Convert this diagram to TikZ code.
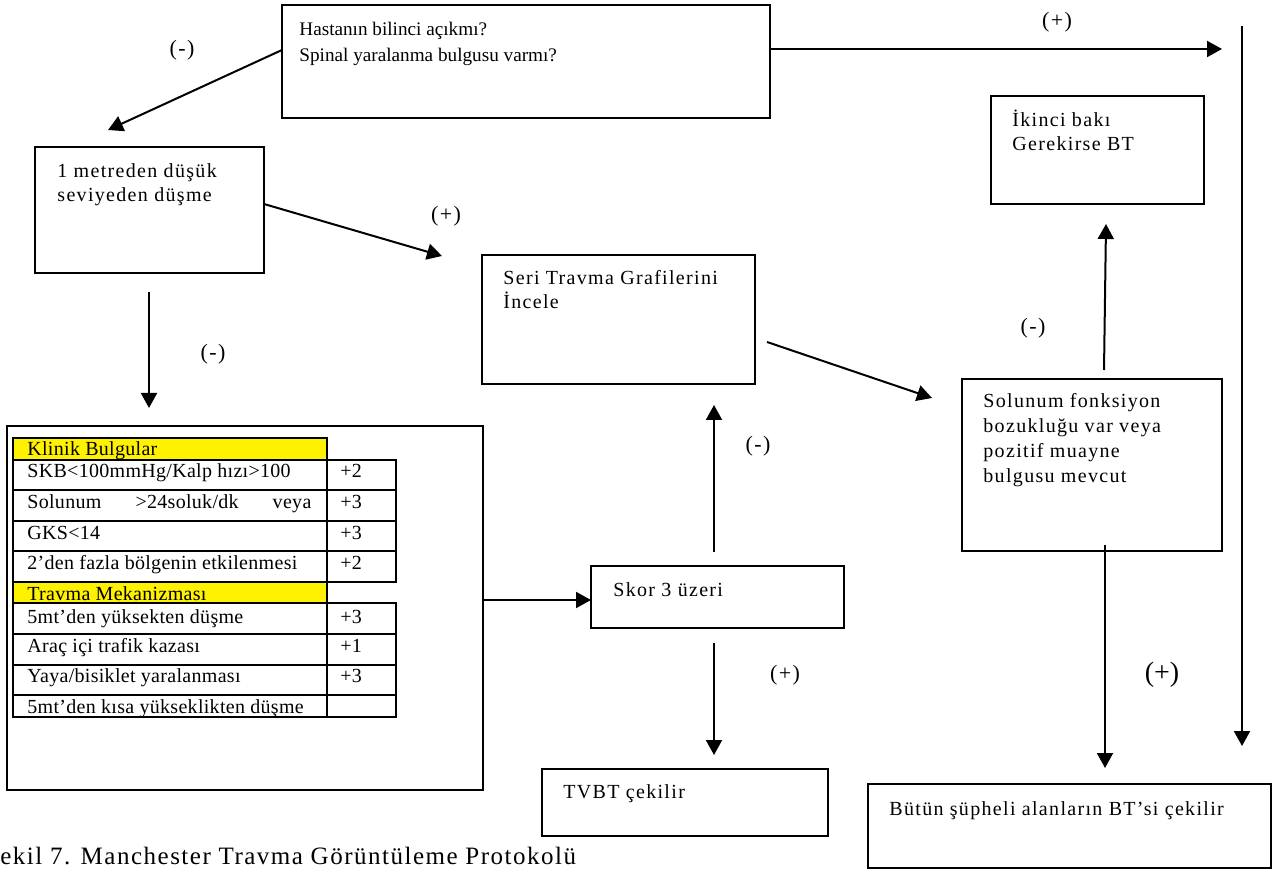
\documentclass[tikz,border=0pt]{standalone}
\usepackage{fontspec}
\setmainfont{Liberation Serif}
\newfontfamily\spcfont[LetterSpace=6.6]{Liberation Serif}
\newfontfamily\capfont[LetterSpace=6]{Liberation Serif}
\newfontfamily\tblfont[LetterSpace=1.5]{Liberation Serif}
\usetikzlibrary{arrows.meta,fit}
\newcommand{\mylines}[1]{\begin{tabular}[t]{@{}l@{}}#1\end{tabular}}
\begin{document}
\begin{tikzpicture}[x=0.5pt,y=-0.5pt,
  box/.style={draw,line width=0.8pt,inner sep=0pt},
  qt/.style={anchor=base west,inner sep=0pt,font=\fontsize{9.6}{13}\selectfont},
  bt/.style={anchor=base west,inner sep=0pt,font=\spcfont\fontsize{10}{12}\selectfont},
  tt/.style={anchor=base west,inner sep=0pt,font=\tblfont\fontsize{10}{12}\selectfont},
  lab/.style={inner sep=0pt,font=\spcfont\fontsize{11}{13}\selectfont},
  arr/.style={line width=1pt,-{Triangle[length=7.5pt,width=8pt]}},
  cell/.style={line width=1pt}]
\useasboundingbox (0,0) rectangle (1272,870);

% boxes
\node[box,fit={(282,5)(770,118)}] (q) {};
\node[box,fit={(35,147)(264,273)}] (m1) {};
\node[box,fit={(482,255)(755,384)}] (seri) {};
\node[box,fit={(991,96)(1204,204)}] (ik) {};
\node[box,fit={(962,379)(1222,551)}] (sol) {};
\node[box,fit={(7,426)(483,790)}] (tbl) {};
\node[box,fit={(591,566)(844,628)}] (skor) {};
\node[box,fit={(542,769)(828,836)}] (tvbt) {};
\node[box,fit={(868,784)(1271,868)}] (but) {};

% box texts
\node[qt] (qtx) at (299,36) {\mylines{Hastanın bilinci açıkmı?\\Spinal yaralanma bulgusu varmı?}};
\node[bt] (m1tx) at (57,178) {\mylines{1 metreden düşük\\seviyeden düşme}};
\node[bt] (seritx) at (503,285) {\mylines{Seri Travma Grafilerini\\İncele}};
\node[bt] (iktx) at (1012,127) {\mylines{İkinci bakı\\Gerekirse BT}};
\node[bt,font=\spcfont\fontsize{10}{12.5}\selectfont] (soltx) at (983,408) {\mylines{Solunum fonksiyon\\bozukluğu var veya\\pozitif muayne\\bulgusu mevcut}};
\node[bt] (skortx) at (613,596) {Skor 3 üzeri};
\node[bt] (tvbttx) at (563,798) {TVBT çekilir};
\node[bt] (buttx) at (889,815) {Bütün şüpheli alanların BT’si çekilir};
\node[anchor=base west,inner sep=0pt,font=\capfont\fontsize{12.5}{14}\selectfont] (cap) at (0,864) {ekil 7. Manchester Travma Görüntüleme Protokolü};

% table
\fill[yellow] (13,438) rectangle (327,460);
\draw[cell] (13,438) rectangle (327,460);
\foreach \a/\b in {460/490,490/521,521/551,551/582}{
  \draw[cell] (13,\a) rectangle (327,\b);
  \draw[cell] (327,\a) rectangle (396,\b);
}
\fill[yellow] (13,582) rectangle (327,603);
\draw[cell] (13,582) rectangle (327,603);
\foreach \a/\b in {603/634,634/665,665/695,695/717}{
  \draw[cell] (13,\a) rectangle (327,\b);
  \draw[cell] (327,\a) rectangle (396,\b);
}
\node[tt] (h1) at (27,456) {Klinik Bulgular};
\node[tt] (r1) at (27,478) {SKB<100mmHg/Kalp hızı>100};
\node[tt] (r2) at (27,509) {\makebox[142pt][l]{Solunum\hfill>24soluk/dk\hfill veya}};
\node[tt] (r3) at (27,539) {GKS<14};
\node[tt] (r4) at (27,569) {2’den fazla bölgenin etkilenmesi};
\node[tt] (h2) at (27,600) {Travma Mekanizması};
\node[tt] (r5) at (27,623) {5mt’den yüksekten düşme};
\node[tt] (r6) at (27,652) {Araç içi trafik kazası};
\node[tt] (r7) at (27,682) {Yaya/bisiklet yaralanması};
\node[tt] (r8) at (27,713) {5mt’den kısa yükseklikten düşme};
\node[tt] (v1) at (340,478) {+2};
\node[tt] (v2) at (340,509) {+3};
\node[tt] (v3) at (340,539) {+3};
\node[tt] (v4) at (340,569) {+2};
\node[tt] (v5) at (340,623) {+3};
\node[tt] (v6) at (340,652) {+1};
\node[tt] (v7) at (340,682) {+3};

% labels
\node[lab] (l1) at (182,50) {(-)};
\node[lab] (l2) at (1057,22) {(+)};
\node[lab] (l3) at (446,216) {(+)};
\node[lab] (l4) at (213,354) {(-)};
\node[lab] (l5) at (758,446) {(-)};
\node[lab] (l6) at (1033,328) {(-)};
\node[lab] (l7) at (785,675) {(+)};
\node[inner sep=0pt,font=\fontsize{14}{16}\selectfont] (l8) at (1162,675) {(+)};

% connector end points
\coordinate (a1s) at (282,50);  \coordinate (a1e) at (108,130);
\coordinate (a2s) at (770,49);  \coordinate (a2e) at (1222,49);
\coordinate (a3s) at (1242,26); \coordinate (a3e) at (1242,746);
\coordinate (a4s) at (264,204); \coordinate (a4e) at (442,256);
\coordinate (a5s) at (149,292); \coordinate (a5e) at (149,408);
\coordinate (a6s) at (483,600); \coordinate (a6e) at (591,600);
\coordinate (a7s) at (714,552); \coordinate (a7e) at (714,405);
\coordinate (a8s) at (767,342); \coordinate (a8e) at (932,398);
\coordinate (a9s) at (1104,370); \coordinate (a9e) at (1106,224);
\coordinate (a10s) at (714,643); \coordinate (a10e) at (714,755);
\coordinate (a11s) at (1105,545); \coordinate (a11e) at (1105,768);

\draw[arr] (a1s) -- (a1e);
\draw[arr] (a2s) -- (a2e);
\draw[arr] (a3s) -- (a3e);
\draw[arr] (a4s) -- (a4e);
\draw[arr] (a5s) -- (a5e);
\draw[arr] (a6s) -- (a6e);
\draw[arr] (a7s) -- (a7e);
\draw[arr] (a8s) -- (a8e);
\draw[arr] (a9s) -- (a9e);
\draw[arr] (a10s) -- (a10e);
\draw[arr] (a11s) -- (a11e);
\end{tikzpicture}
\end{document}
